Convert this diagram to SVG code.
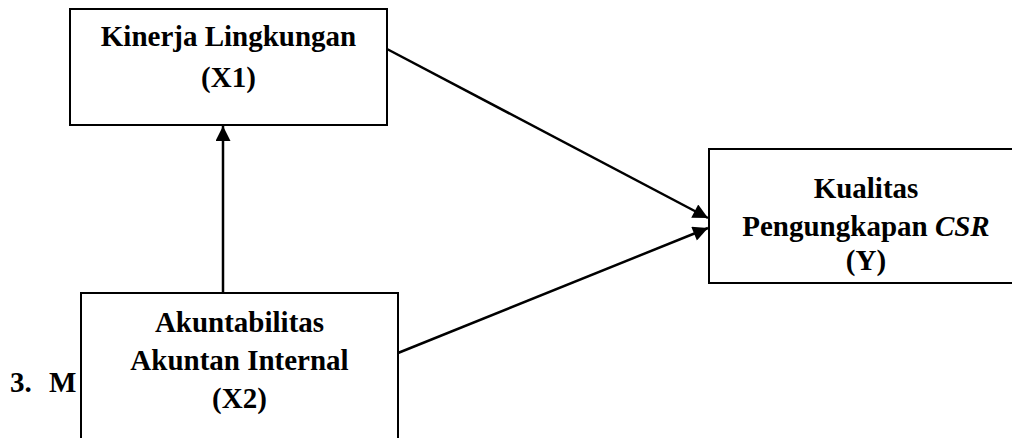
<svg xmlns="http://www.w3.org/2000/svg" width="1012" height="438" viewBox="0 0 1012 438">
<style>
.box{fill:#fff;stroke:#000;stroke-width:2}
.t{font-family:"Liberation Serif","Times New Roman",serif;font-weight:bold;font-size:29px;fill:#000;text-anchor:middle}
.h{font-family:"Liberation Serif","Times New Roman",serif;font-weight:bold;font-size:29px;fill:#000}
.c{stroke:#000;stroke-width:2.5;fill:none}
</style>
<defs>
<marker id="ah" viewBox="0 0 10 10" refX="10" refY="5" markerWidth="7" markerHeight="6" markerUnits="strokeWidth" orient="auto">
<path d="M0,0 L10,5 L0,10 z" fill="#000"/>
</marker>
</defs>
<text class="h" x="10" y="392">3.<tspan x="49">M</tspan></text>
<g id="connectors">
<line class="c" x1="223" y1="293" x2="223" y2="126" marker-end="url(#ah)"/>
<line class="c" x1="387" y1="49" x2="708" y2="218" marker-end="url(#ah)"/>
<line class="c" x1="398" y1="353" x2="708" y2="228" marker-end="url(#ah)"/>
</g>
<g id="x1">
<rect class="box" x="70" y="9" width="317" height="116"/>
<text class="t" x="228.5" y="46">Kinerja Lingkungan</text>
<text class="t" x="228.5" y="87">(X1)</text>
</g>
<g id="x2">
<rect class="box" x="81" y="293" width="317" height="160"/>
<text class="t" x="239.5" y="332">Akuntabilitas</text>
<text class="t" x="239.5" y="370">Akuntan Internal</text>
<text class="t" x="239.5" y="408">(X2)</text>
</g>
<g id="y">
<rect class="box" x="709" y="149" width="320" height="134"/>
<text class="t" x="866" y="198">Kualitas</text>
<text class="t" x="866" y="236">Pengungkapan <tspan font-style="italic">CSR</tspan></text>
<text class="t" x="866" y="270">(Y)</text>
</g>
</svg>
